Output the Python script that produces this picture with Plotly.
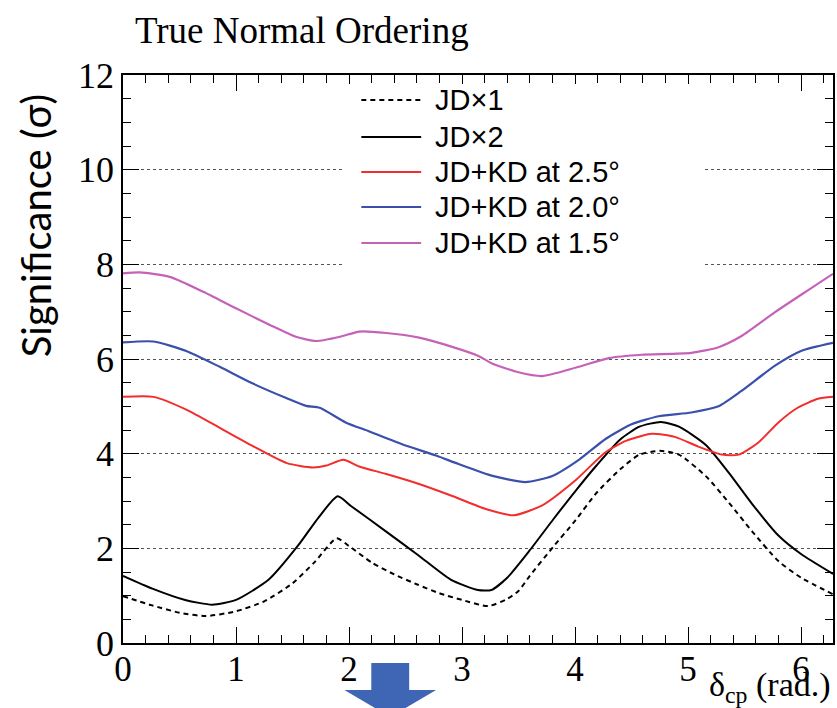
import plotly.graph_objects as go

# ---- data ----
jd1_x = [0.0, 0.25, 0.5, 0.73, 1.0, 1.25, 1.5, 1.7, 1.89, 2.0, 2.2, 2.4, 2.61, 2.8, 3.0, 3.23, 3.4, 3.5,
         3.6, 3.81, 4.0, 4.19, 4.4, 4.57, 4.75, 4.92, 5.16, 5.36, 5.57, 5.8, 6.0, 6.283]
jd1_y = [0.99, 0.80, 0.64, 0.57, 0.67, 0.88, 1.26, 1.72, 2.21, 2.05, 1.70, 1.45, 1.23, 1.05, 0.91, 0.78, 0.93, 1.10,
         1.42, 2.04, 2.58, 3.17, 3.67, 3.98, 4.06, 3.98, 3.52, 2.97, 2.35, 1.73, 1.38, 1.03]

jd2_x = [0.0, 0.26, 0.55, 0.79, 1.0, 1.29, 1.55, 1.73, 1.9, 2.02, 2.32, 2.61, 2.9, 3.14, 3.26, 3.4,
         3.6, 3.81, 4.0, 4.19, 4.4, 4.57, 4.76, 4.92, 5.16, 5.36, 5.57, 5.8, 6.0, 6.283]
jd2_y = [1.42, 1.15, 0.91, 0.81, 0.91, 1.34, 2.06, 2.65, 3.10, 2.89, 2.37, 1.86, 1.34, 1.12, 1.12, 1.38,
         1.96, 2.62, 3.20, 3.75, 4.30, 4.57, 4.67, 4.57, 4.18, 3.60, 2.93, 2.27, 1.88, 1.46]

kd25_x = [0.0, 0.27, 0.56, 0.86, 1.15, 1.45, 1.68, 1.8, 1.95, 2.09, 2.33, 2.62, 2.92, 3.21, 3.46, 3.71,
          4.01, 4.27, 4.45, 4.68, 4.89, 5.09, 5.3, 5.45, 5.62, 5.8, 5.97, 6.15, 6.283]
kd25_y = [5.20, 5.20, 4.93, 4.54, 4.16, 3.80, 3.71, 3.75, 3.87, 3.73, 3.57, 3.36, 3.10, 2.83, 2.70, 2.91,
          3.45, 4.03, 4.27, 4.42, 4.35, 4.15, 3.98, 3.98, 4.23, 4.66, 4.97, 5.16, 5.20]

kd20_x = [0.0, 0.27, 0.56, 0.86, 1.15, 1.45, 1.62, 1.74, 1.97, 2.18, 2.47, 2.77, 2.97, 3.27, 3.56, 3.8,
          4.04, 4.27, 4.5, 4.74, 5.03, 5.27, 5.47, 5.77, 6.0, 6.283]
kd20_y = [6.35, 6.37, 6.17, 5.83, 5.48, 5.17, 5.01, 4.97, 4.66, 4.47, 4.20, 3.96, 3.78, 3.53, 3.40, 3.53,
          3.88, 4.31, 4.62, 4.79, 4.87, 5.00, 5.32, 5.86, 6.17, 6.34]

kd15_x = [0.0, 0.15, 0.42, 0.71, 1.0, 1.3, 1.53, 1.71, 1.92, 2.09, 2.33, 2.62, 2.92, 3.15, 3.27, 3.5, 3.71,
          4.01, 4.3, 4.59, 5.03, 5.27, 5.47, 5.77, 6.06, 6.283]
kd15_y = [7.81, 7.83, 7.73, 7.42, 7.07, 6.72, 6.47, 6.38, 6.47, 6.58, 6.55, 6.45, 6.25, 6.06, 5.90, 5.72, 5.64,
          5.82, 6.02, 6.09, 6.13, 6.25, 6.48, 6.99, 7.45, 7.80]

names = ["JD\u00d71", "JD\u00d72", "JD+KD at 2.5\u00b0", "JD+KD at 2.0\u00b0", "JD+KD at 1.5\u00b0"]
xs = [jd1_x, jd2_x, kd25_x, kd20_x, kd15_x]
ys = [jd1_y, jd2_y, kd25_y, kd20_y, kd15_y]
styles = [dict(color="black", width=2, dash="5px,4px"),
          dict(color="black", width=2, dash="solid"),
          dict(color="#f22d2d", width=2, dash="solid"),
          dict(color="#3a50aa", width=2.2, dash="solid"),
          dict(color="#c462b8", width=2.2, dash="solid")]

# ---- geometry helpers (pixel -> paper) ----
L, R, T, B = 123, 835, 75, 643
W, H = 837, 708
def px(xp):
    return (xp - L) / (R - L)
def py(yp):
    return (B - yp) / (B - T)

fig = go.Figure()
for n, x, y, s in zip(names, xs, ys, styles):
    fig.add_trace(go.Scatter(x=x, y=y, mode="lines", name=n, line=dict(shape="spline", smoothing=0.6, **s),
                             showlegend=False))

serif = "Liberation Serif, Times New Roman, serif"
sans = "Liberation Sans, Arial, sans-serif"

shapes = []
annotations = []

# legend: white box + samples + text
shapes.append(dict(type="rect", xref="paper", yref="paper", x0=px(345), x1=px(705), y0=py(300), y1=py(84),
                   fillcolor="white", line=dict(width=0), layer="above"))
leg_rows = [100, 137, 172, 207, 243]
for n, s, r in zip(names, styles, leg_rows):
    shapes.append(dict(type="line", xref="paper", yref="paper", x0=px(362), x1=px(422), y0=py(r), y1=py(r),
                       line=dict(color=s["color"], width=s["width"], dash=s["dash"]), layer="above"))
    annotations.append(dict(text=n, xref="paper", yref="paper", x=px(434), y=py(r), xanchor="left",
                            yanchor="middle", showarrow=False, font=dict(family=sans, size=29, color="black")))

# blue arrow below the axis
arrow_path = "M {a},{b} L {c},{b} L {c},{d} L {e},{d} L {f},{g} L {h},{d} L {i},{d} Z".format(
    a=px(372), b=py(663), c=px(410), d=py(690), e=px(437), f=px(391), g=py(717), h=px(345), i=px(372))
shapes.append(dict(type="path", xref="paper", yref="paper", path=arrow_path, fillcolor="#3f66b4",
                   line=dict(width=0), layer="above"))

annotations.append(dict(text="True Normal Ordering", xref="paper", yref="paper", x=px(133), y=py(30),
                        xanchor="left", yanchor="middle", showarrow=False,
                        font=dict(family=serif, size=37, color="black")))
annotations.append(dict(text="Significance (\u03c3)", xref="paper", yref="paper", x=px(36), y=py(226),
                        xanchor="center", yanchor="middle", textangle=-90, showarrow=False,
                        font=dict(family="Lato, Open Sans, sans-serif", size=40, color="black")))
annotations.append(dict(text="\u03b4<sub>cp</sub> (rad.)", xref="paper", yref="paper", x=1.0, y=py(664),
                        xanchor="right", yanchor="top", showarrow=False,
                        font=dict(family=serif, size=34, color="black")))

fig.update_layout(
    width=W, height=H,
    margin=dict(l=L, r=W - R, t=T, b=H - B),
    paper_bgcolor="white", plot_bgcolor="white",
    shapes=shapes, annotations=annotations,
    showlegend=False,
)
fig.update_xaxes(range=[0, 6.283], tickmode="array", tickvals=[0, 1, 2, 3, 4, 5, 6],
                 ticks="inside", ticklen=16, tickwidth=1, tickcolor="black",
                 minor=dict(dtick=0.2, tick0=0, ticks="inside", ticklen=8, tickcolor="black", showgrid=False),
                 showline=True, linecolor="black", linewidth=1.5, mirror="allticks",
                 showgrid=False, zeroline=False, ticklabelstandoff=-6,
                 tickfont=dict(family=serif, size=35, color="black"))
fig.update_yaxes(range=[0, 12], tickmode="array", tickvals=[0, 2, 4, 6, 8, 10, 12],
                 ticks="inside", ticklen=16, tickwidth=1, tickcolor="black",
                 minor=dict(dtick=0.5, tick0=0, ticks="inside", ticklen=8, tickcolor="black", showgrid=False),
                 showline=True, linecolor="black", linewidth=1.5, mirror="allticks",
                 showgrid=True, gridcolor="#555555", gridwidth=1, griddash="dot", zeroline=False,
                 tickfont=dict(family=serif, size=36, color="black"))

fig.write_html("out.html")
